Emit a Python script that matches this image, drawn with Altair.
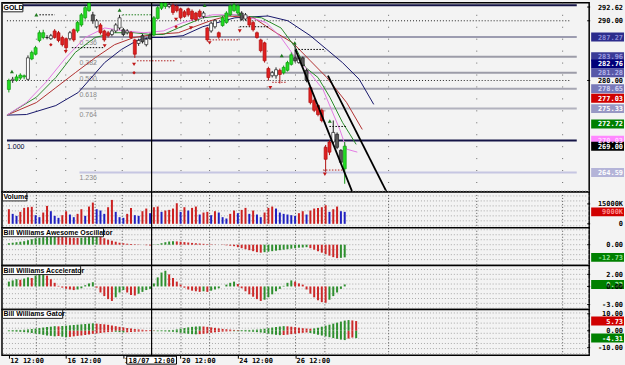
import altair as alt
import pandas as pd

W = 590
H_MAIN, H_VOL, H_AO, H_AC, H_GAT = 190, 36, 38, 44, 46
X_DOMAIN = [-0.5, 150.75]
BG = "#f3f3f3"
MONO = "DejaVu Sans Mono"
SANS = "Liberation Sans"

# ---------------- price candles (bar index 0..88) ----------------
OPEN = [278.5, 280.0, 280.0, 280.4, 280.6, 280.2, 283.6, 284.4, 286.7, 287.2,
        287.2, 287.0, 288.3, 288.0, 287.2, 287.0, 287.0, 288.5, 288.3, 289.3,
        290.5, 291.7, 291.0, 290.0, 289.3, 288.3, 288.0, 287.7, 288.3, 288.8,
        288.5, 288.0, 288.0, 286.8, 286.2, 286.5, 286.0, 287.0, 287.6, 290.4,
        292.1, 292.4, 292.4, 292.6, 292.4, 292.0, 291.5, 292.0, 291.6, 291.3,
        291.6, 290.7, 288.8, 288.3, 289.0, 288.0, 289.2, 289.7, 291.0, 291.7,
        291.3, 291.3, 290.3, 290.5, 289.7, 288.0, 286.8, 286.3, 282.0, 280.8,
        280.8, 281.7, 281.3, 281.7, 282.7, 283.3, 283.0, 283.8, 281.7, 278.8,
        276.7, 275.8, 275.0, 268.8, 269.7, 269.7, 271.0, 268.3, 265.2]
CLOSE = [280.0, 280.2, 280.6, 280.9, 280.8, 283.8, 284.7, 285.5, 288.0, 288.0,
         287.2, 287.5, 287.2, 286.7, 286.0, 285.5, 288.0, 286.8, 289.7, 291.0,
         292.2, 293.0, 290.0, 289.0, 288.0, 286.8, 287.5, 288.3, 289.3, 290.5,
         287.7, 288.3, 287.2, 284.4, 286.7, 287.5, 286.9, 287.6, 290.5, 292.2,
         293.0, 293.0, 292.7, 291.4, 291.7, 290.5, 290.7, 291.0, 290.3, 290.2,
         290.7, 291.3, 286.8, 289.6, 290.0, 287.3, 290.5, 291.3, 292.5, 292.7,
         292.5, 290.2, 291.0, 289.3, 288.5, 287.2, 285.0, 283.3, 280.5, 281.3,
         281.8, 281.0, 282.2, 283.0, 284.3, 283.8, 283.8, 282.5, 280.0, 276.3,
         275.0, 274.3, 273.3, 266.8, 268.0, 271.3, 268.8, 266.3, 269.0]
HIGH = [280.3, 280.6, 281.0, 281.2, 281.0, 284.2, 285.0, 285.8, 288.4, 288.5,
        287.6, 287.8, 288.6, 288.3, 287.5, 287.2, 288.3, 288.7, 290.0, 291.3,
        292.5, 293.2, 291.5, 290.3, 289.6, 288.5, 288.3, 288.6, 289.6, 291.0,
        288.8, 288.6, 288.3, 287.0, 287.0, 287.8, 287.2, 288.0, 290.8, 292.5,
        293.3, 293.3, 293.0, 292.9, 292.7, 292.2, 291.8, 292.2, 291.9, 291.5,
        291.9, 291.6, 289.0, 289.9, 290.3, 288.2, 290.8, 291.6, 292.8, 293.0,
        292.8, 291.6, 291.3, 290.8, 290.0, 288.2, 287.0, 286.5, 282.3, 281.6,
        282.2, 282.0, 282.5, 283.3, 284.7, 286.3, 284.1, 284.0, 282.0, 279.0,
        277.0, 276.0, 275.3, 269.2, 270.0, 273.3, 271.3, 268.5, 269.7]
LOW = [278.0, 279.6, 279.8, 280.1, 280.2, 280.0, 283.4, 284.2, 286.4, 286.9,
       286.9, 286.8, 287.0, 286.4, 285.7, 284.8, 286.7, 286.5, 288.0, 289.0,
       290.2, 291.5, 289.5, 288.7, 287.7, 286.5, 287.2, 287.4, 288.0, 288.5,
       287.4, 287.7, 287.0, 283.8, 285.8, 286.2, 285.7, 286.8, 287.4, 290.2,
       291.8, 292.0, 292.1, 291.0, 291.4, 290.2, 290.5, 290.7, 290.0, 289.9,
       290.5, 290.4, 286.5, 288.0, 288.7, 287.0, 289.0, 289.5, 290.8, 291.5,
       291.0, 290.0, 290.0, 289.0, 288.2, 287.0, 284.7, 283.0, 280.0, 280.5,
       280.3, 279.5, 281.0, 281.5, 282.5, 283.0, 282.8, 282.2, 279.7, 276.0,
       274.7, 274.0, 273.0, 264.7, 267.5, 269.5, 268.5, 266.0, 262.7]
KIND = list("gwgggwggggwwrrrrwrggggkwrrrwwwkwrrwkwkggggwrrrrrrrrwrwwrgggggkwrrrrrrwwrgggkwkkrrrrrrwkkg")

# ---------------- moving-average lines (alligator etc.) ----------------
JAW_I = [-0.5, 4.6, 12.3, 18.2, 25.1, 29.5, 33.6, 37.2, 40.5, 45.6, 50.8, 59.2, 67.9, 73.1, 79.0, 83.3, 87.4, 91.8, 95.6]
JAW_P = [274.2, 274.3, 275.8, 278.0, 283.0, 285.2, 286.7, 287.2, 287.2, 287.5, 289.0, 290.5, 290.8, 290.0, 287.5, 285.2, 283.0, 280.2, 276.0]
TEETH_I = [-0.5, 7.2, 12.3, 17.4, 22.6, 27.7, 32.8, 37.9, 44.4, 52.8, 57.2, 64.1, 70.0, 74.4, 79.0, 83.3, 88.5, 92.6]
TEETH_P = [274.2, 276.3, 278.8, 281.3, 283.8, 286.0, 287.2, 287.7, 288.0, 290.0, 290.8, 290.5, 288.0, 286.3, 283.3, 280.5, 276.3, 271.8]
LIPS_I = [-0.5, 7.2, 12.3, 17.4, 22.6, 27.7, 32.8, 37.2, 40.5, 44.4, 50.8, 58.5, 66.2, 71.3, 75.1, 77.7, 81.0, 84.1, 87.4, 91.0]
LIPS_P = [274.2, 277.2, 280.5, 284.7, 287.2, 288.0, 288.0, 287.7, 287.7, 288.8, 290.5, 291.0, 290.5, 288.8, 285.5, 282.2, 280.5, 277.2, 273.0, 269.3]
PINK_I = [-0.5, 4.6, 9.7, 14.9, 20.0, 25.1, 30.3, 35.4, 40.5, 45.6, 53.3, 61.0, 67.4, 71.3, 75.1, 77.7, 82.3, 86.7, 88.5, 91.3]
PINK_P = [274.2, 276.3, 279.7, 283.8, 287.2, 288.8, 288.3, 288.0, 288.3, 289.7, 291.0, 291.0, 289.7, 287.2, 283.8, 282.2, 278.5, 271.8, 268.5, 268.0]

# ---------------- fibonacci ----------------
FIB_NAMES = ["", "0.236", "0.382", "0.500", "0.618", "0.764", "1.000", "1.236"]
FIB_PRICES = [292.62, 287.27, 283.96, 281.28, 278.60, 275.29, 269.94, 264.59]
FIB_START = [-0.5, 18.5, 18.5, 18.5, 18.5, 18.5, -0.5, 18.5]
FIB_END = [148.8] * 8
FIB_COLORS = ["#141446", "#9c9cb0", "#9c9ca8", "#9c9ca8", "#a6a6b2", "#b2b2be", "#141446", "#c6c6e2"]

# ---------------- fractals & trend lines ----------------
UP_I = [0.8, 7.2, 29.0, 51.3, 60.5, 71.5, 74.9, 84.1]
UP_P = [281.5, 291.0, 291.8, 292.6, 291.2, 284.2, 286.3, 273.2]
DOWN_I = [14.9, 25.1, 32.8, 43.8, 47.7, 52.6, 60.5, 68.5, 82.8]
DOWN_P = [284.8, 285.8, 282.7, 290.2, 288.8, 286.3, 288.3, 278.8, 264.3]
DIAM_I = [11.0, 32.8, 43.8]
DIAM_P = [286.0, 281.3, 289.0]
SEG_X1 = [16.5, 29.8, 33.6, 52.6, 60.5, 75.1, 69.0, 84.0, 82.3, 8.0]
SEG_X2 = [25.0, 37.2, 43.6, 60.5, 68.0, 82.8, 72.6, 88.7, 87.4, 12.0]
SEG_P = [285.5, 291.0, 283.3, 286.8, 289.0, 285.2, 279.7, 272.3, 265.0, 291.0]
SEG_C = ["#000", "#208020", "#b02020", "#b02020", "#000", "#000", "#b02020", "#000", "#b02020", "#000"]
TREND_ID = ["a", "a", "b", "b"]
TREND_I = [75.1, 90.0, 83.6, 99.0]
TREND_P = [285.17, 261.3, 280.83, 261.3]

GRID_X = [7.2, 14.9, 22.6, 29.7, 45.1, 52.6, 60.3, 67.7, 75.1, 82.8, 99.5, 122.6, 145.1]
CROSS = 37.4
DOTTED_PRICES = [290.0, 280.0]

# ---------------- indicators ----------------
VOLUME = [11000, 7500, 6000, 9000, 12000, 12500, 12800, 6500, 5000, 8500,
          13500, 9500, 6000, 4500, 6500, 9500, 7000, 5000, 7500, 11000,
          6000, 13000, 16000, 11000, 10000, 7500, 12500, 18000, 9000, 5000,
          4500, 7500, 12000, 6500, 6000, 9500, 11500, 8000, 12500, 13000,
          9000, 10000, 10500, 11500, 15500, 9000, 12500, 10000, 12000, 13000,
          7000, 8500, 9000, 6500, 9500, 8500, 5000, 4000, 7500, 10000,
          8000, 10500, 12000, 7500, 10000, 7000, 5000, 8500, 12000, 13000,
          11500, 8500, 7500, 7000, 6500, 6000, 8000, 9500, 7000, 10000,
          11500, 12000, 12500, 14000, 9000, 11000, 13000, 9500, 9000]
AO = [1.5, 2.0, 2.5, 3.0, 3.5, 4.5, 5.5, 6.5, 7.0, 7.5, 7.8, 8.0, 8.2,
      8.0, 7.8, 7.5, 7.2, 7.0, 6.8, 7.0, 7.5, 8.0, 8.5, 8.6,
      8.0, 6.5, 5.0, 4.0, 3.0, 2.0, 1.5, 1.0, 0.8, 0.5, 0.3, 0.0, -0.5, -0.8,
      -0.3, 0.5, 1.5, 2.5, 3.2, 3.5, 3.3,
      3.0, 2.6, 2.2, 1.8, 1.5, 1.2, 0.9, 0.6, 0.4, 0.2, 0.0, -0.3, -0.6, -1.0, -1.5,
      -2.5, -3.5, -4.5, -5.5, -6.5, -7.5, -8.0,
      -7.5, -7.0, -6.5, -6.0, -5.5, -5.0, -4.5, -4.0, -3.5, -3.0, -2.8, -2.5,
      -3.5, -5.0, -6.5, -8.0, -9.5, -11.0, -12.5, -13.5, -13.2, -12.73]
AC = [0.8, 1.0, 1.2, 1.1, 1.3, 1.5, 1.4, 1.8, 2.2, 2.4, 1.8, 1.2, 0.6, 0.1,
      -0.2, -0.4, -0.5, -0.6, -0.5, -0.3, 0.2, 0.5, 0.7, -0.2, -1.0, -1.6,
      -2.1, -2.4, -1.8, -1.0, -0.6, -1.0, -1.4, -1.5, -1.2, -0.9, -0.6, -0.4,
      0.5, 1.5, 2.3, 2.6, 2.0, 1.4, 0.8, 0.3, -0.2, -0.5, -0.7, -0.8, -0.9,
      -0.8, -0.9, -0.7, -0.5, -0.3, 0.0, 0.3, 0.6, 0.8, 0.4, -0.3, -0.8, -1.3,
      -1.7, -2.1, -2.4, -2.2, -1.8, -1.3, -0.8, -0.4, 0.1, 0.6, 1.0, 0.8, 0.5,
      0.3, -0.5, -1.2, -1.8, -2.3, -2.6, -2.7, -2.2, -1.6, -1.0, -0.4, 0.33]
GATOR_UP = [0.3, 0.4, 0.5, 0.5, 0.6, 0.8, 1.0, 1.3, 1.6, 1.9, 2.2,
            2.4, 2.7, 2.6, 2.8, 3.0, 3.2, 3.4,
            3.6, 3.8, 4.0, 4.2, 4.4, 4.2, 4.0, 3.8, 3.5, 3.1,
            2.7, 2.3, 2.0, 1.6, 1.3, 1.0, 0.8, 0.6, 0.4, 0.3,
            0.2, 0.2, 0.3, 0.3, 0.4, 0.5,
            0.8, 1.2, 1.6, 2.0, 2.3, 2.5, 2.6, 2.5,
            2.3, 2.0, 1.7, 1.4, 1.1, 0.9, 0.7, 0.5,
            0.4, 0.4, 0.5, 0.5, 0.6, 0.7, 0.9,
            1.2, 1.5, 1.9, 2.2, 2.5, 2.7, 2.6, 2.4, 2.1,
            1.8, 1.5, 1.3, 1.2, 1.4,
            1.8, 2.4, 3.0, 3.6, 4.2, 4.8, 5.4, 6.0, 6.3, 6.1, 5.73]
GATOR_DN = [-0.3, -0.4, -0.5, -0.6, -0.8, -1.0, -1.3, -1.7, -2.0, -2.4, -2.8,
            -3.0, -3.3, -3.1, -3.5, -3.8, -3.6, -3.3,
            -3.0, -2.8, -2.5, -2.2, -1.8, -1.6, -1.3, -1.0, -0.8, -0.6,
            -0.6, -0.8, -1.0, -0.9, -0.8, -0.6, -0.5, -0.4, -0.3, -0.2,
            -0.2, -0.3, -0.3, -0.4, -0.5, -0.6,
            -0.9, -1.2, -1.5, -1.8, -2.0, -2.1, -2.0, -1.8,
            -1.5, -1.2, -0.9, -0.7, -0.5, -0.4, -0.3, -0.3,
            -0.3, -0.3, -0.4, -0.5, -0.6, -0.8, -1.0,
            -1.3, -1.7, -2.1, -2.4, -2.6, -2.5, -2.3, -2.0, -1.7,
            -1.4, -1.2, -1.0, -1.3, -1.8,
            -2.3, -2.8, -3.3, -3.8, -4.3, -4.8, -5.2, -5.5, -4.6, -4.0, -4.31]

TICK_IDX = [0, 15, 30, 45, 60, 75]
TICK_TEXT = ["12 12:00", "16 12:00", "18 12:00", "20 12:00", "24 12:00", "26 12:00"]
CROSS_LABEL = "18/07 12:00"

# ---------------- right-hand labels ----------------
MAIN_PLAIN = [(292.3, "292.62"), (290.0, "290.00"), (280.0, "280.00")]
MAIN_BOX = [(287.27, "287.27", "#2c2c8c", "#8c8cd8"),
            (283.96, "283.96", "#3a3a96", "#9a9ae0"),
            (282.76, "282.76", "#00007a", "#ffffff"),
            (281.28, "281.28", "#5858a8", "#b4b4ea"),
            (278.60, "278.65", "#7878b8", "#d4d4f4"),
            (277.03, "277.03", "#d00000", "#ffffff"),
            (275.29, "275.33", "#9898c4", "#ffffff"),
            (272.72, "272.72", "#008000", "#ffffff"),
            (270.00, "270.03", "#ff88ff", "#ffd8ff"),
            (269.00, "269.00", "#000000", "#ffffff"),
            (264.59, "264.59", "#b4b4d8", "#ffffff")]
VOL_PLAIN = [(15000, "15000K"), (0, "0")]
VOL_BOX = [(9000, "9000K", "#d00000", "#ff9090")]
AO_PLAIN = [(0, "0.00")]
AO_BOX = [(-12.73, "-12.73", "#008000", "#90e090")]
AC_PLAIN = [(2.0, "2.00"), (0.0, "0.00"), (-3.0, "-3.00")]
AC_BOX = [(0.33, "0.33", "#008000", "#b0f0b0")]
GAT_PLAIN = [(10.0, "10.00"), (0.0, "0.00"), (-10.0, "-10.00")]
GAT_BOX = [(5.73, "5.73", "#d00000", "#ffffff"), (-4.31, "-4.31", "#008000", "#ffffff")]

# =====================================================================
xsc = alt.Scale(domain=X_DOMAIN, nice=False, zero=False)
label_expr = " : ".join(
    f"datum.value == {v} ? '{t}'" for v, t in zip(TICK_IDX, TICK_TEXT)) + " : ''"
TIME_AXIS = alt.Axis(values=TICK_IDX, labelExpr=label_expr, labelAlign="left",
                     labelFont=MONO, labelFontSize=7, labelFontWeight="bold",
                     labelColor="#000", tickSize=3, tickColor="#000", tickWidth=1,
                     labelPadding=-2, labelOffset=1, domain=False,
                     grid=False, labelOverlap=False, labelBound=False, labelFlush=False,
                     title=None)


def X(field="i", axis=None):
    return alt.X(f"{field}:Q", scale=xsc, axis=axis)


def grid_layers(ysc, row_vals, axis, main=False):
    gdf = pd.DataFrame({"i": GRID_X})
    if main:
        vg = alt.Chart(gdf).mark_rule(color="#6a6a6a", strokeWidth=1, strokeDash=[1, 11]).encode(x=X(axis=axis))
        return [vg]
    vg = alt.Chart(gdf).mark_rule(color="#555", strokeWidth=1, strokeDash=[1, 2]).encode(x=X(axis=axis))
    rdf = pd.DataFrame({"v": row_vals})
    hg = alt.Chart(rdf).mark_rule(color="#a8a8a8", strokeWidth=1, strokeDash=[1, 2]).encode(
        y=alt.Y("v:Q", scale=ysc, axis=None))
    return [hg, vg]


def cross_layer(axis=None):
    return alt.Chart(pd.DataFrame({"i": [CROSS]})).mark_rule(color="#000", strokeWidth=1.2).encode(x=X(axis=axis))


def right_labels(plain, boxes, ysc, plain_last=False):
    bl = []
    if boxes:
        bdf = pd.DataFrame(boxes, columns=["v", "t", "fill", "tc"])
        rect = alt.Chart(bdf).mark_rect(yOffset=-4.5, y2Offset=4.5).encode(
            x=alt.value(W + 2), x2=alt.value(W + 35),
            y=alt.Y("v:Q", scale=ysc, axis=None), y2="v:Q",
            fill=alt.Fill("fill:N", scale=None))
        txt = alt.Chart(bdf).mark_text(align="right", baseline="middle", font=MONO,
                                       fontSize=7, fontWeight="bold", dy=0.5).encode(
            x=alt.value(W + 34), y=alt.Y("v:Q", scale=ysc, axis=None), text="t:N",
            color=alt.Color("tc:N", scale=None))
        bl = [rect, txt]
    pdf = pd.DataFrame(plain, columns=["v", "t"])
    ptxt = alt.Chart(pdf).mark_text(align="right", baseline="middle", font=MONO,
                                    fontSize=7, fontWeight="bold", color="#000", dy=0.5).encode(
        x=alt.value(W + 34), y=alt.Y("v:Q", scale=ysc, axis=None), text="t:N")
    ticks = alt.Chart(pdf).mark_rule(color="#000").encode(
        x=alt.value(W - 2), x2=alt.value(W + 1), y=alt.Y("v:Q", scale=ysc, axis=None))
    out = [ticks]
    if plain_last:
        out += bl + [ptxt]
    else:
        out += [ptxt] + bl
    return out


def title_box(text, wpx):
    d = pd.DataFrame({"t": [text]})
    r = alt.Chart(d).mark_rect(fill="#ffffff", stroke="#222", strokeWidth=1).encode(
        x=alt.value(0.5), x2=alt.value(wpx), y=alt.value(0.5), y2=alt.value(9))
    t = alt.Chart(d).mark_text(align="left", baseline="top", font=SANS, fontSize=7,
                               fontWeight="bold", color="#000").encode(
        x=alt.value(1.5), y=alt.value(1), text="t:N")
    return [r, t]


# ---------------- main panel ----------------
ysc_main = alt.Scale(domain=[261.33, 293.0], nice=False, zero=False)
Ym = lambda f: alt.Y(f"{f}:Q", scale=ysc_main, axis=None)

FILL = {"g": "#22dd22", "r": "#e02020", "w": "#ffffff", "k": "#5a5a5a"}
LINE = {"g": "#119911", "r": "#b01010", "w": "#202020", "k": "#202020"}
cdf = pd.DataFrame({"i": list(range(len(OPEN))), "o": OPEN, "c": CLOSE, "h": HIGH, "l": LOW, "k": KIND})
cdf["fill"] = cdf["k"].map(FILL)
cdf["line"] = cdf["k"].map(LINE)

fib_df = pd.DataFrame({"p": FIB_PRICES, "x1": FIB_START, "x2": FIB_END, "col": FIB_COLORS, "name": FIB_NAMES})
fib_df["w"] = [1.5, 2, 2, 2, 2, 1.5, 1.5, 1.5]
fib_lines = alt.Chart(fib_df).mark_rule(strokeWidth=2).encode(
    x=X("x1"), x2="x2:Q", y=Ym("p"), color=alt.Color("col:N", scale=None),
    strokeWidth=alt.StrokeWidth("w:Q", scale=None))
fib_txt_df = fib_df[fib_df["name"] != ""].copy()
fib_txt_df["tc"] = ["#8a8a8a", "#8a8a8a", "#8a8a8a", "#8a8a8a", "#8a8a8a", "#000030", "#8a8a8a"]
fib_txt = alt.Chart(fib_txt_df).mark_text(align="left", baseline="top", font=SANS, fontSize=7, dy=2).encode(
    x=X("x1"), y=Ym("p"), text="name:N", color=alt.Color("tc:N", scale=None))

dotted_rows = alt.Chart(pd.DataFrame({"p": DOTTED_PRICES, "x1": [-0.5, -0.5], "x2": [147.0, 147.0]})).mark_rule(
    color="#222", strokeDash=[1, 2]).encode(x=X("x1"), x2="x2:Q", y=Ym("p"))

ma_rows = []
for name, xi, pp, col in [("jaw", JAW_I, JAW_P, "#16166a"), ("teeth", TEETH_I, TEETH_P, "#b03030"),
                          ("lips", LIPS_I, LIPS_P, "#2a8a2a"), ("pink", PINK_I, PINK_P, "#e27ae2")]:
    for a, b in zip(xi, pp):
        ma_rows.append({"line": name, "i": a, "p": b, "col": col})
ma_df = pd.DataFrame(ma_rows)
ma_lines = alt.Chart(ma_df).mark_line(strokeWidth=1, clip=True).encode(
    x=X(), y=Ym("p"), detail="line:N", color=alt.Color("col:N", scale=None))

seg_df = pd.DataFrame({"x1": SEG_X1, "x2": SEG_X2, "p": SEG_P, "col": SEG_C})
segs = alt.Chart(seg_df).mark_rule(strokeDash=[1.5, 1.5], strokeWidth=1).encode(
    x=X("x1"), x2="x2:Q", y=Ym("p"), color=alt.Color("col:N", scale=None))

wicks = alt.Chart(cdf).mark_rule(strokeWidth=1, clip=True).encode(
    x=X(), y=Ym("l"), y2="h:Q", color=alt.Color("line:N", scale=None))
bodies = alt.Chart(cdf).mark_bar(size=3, strokeWidth=0.7, clip=True).encode(
    x=X(), y=Ym("o"), y2="c:Q", fill=alt.Fill("fill:N", scale=None),
    stroke=alt.Stroke("line:N", scale=None))

up_pts = alt.Chart(pd.DataFrame({"i": UP_I, "p": UP_P})).mark_point(
    shape="triangle-up", filled=True, size=16, color="#1f7a1f", opacity=1).encode(x=X(), y=Ym("p"))
dn_pts = alt.Chart(pd.DataFrame({"i": DOWN_I, "p": DOWN_P})).mark_point(
    shape="triangle-down", filled=True, size=16, color="#c01818", opacity=1).encode(x=X(), y=Ym("p"))
dm_pts = alt.Chart(pd.DataFrame({"i": DIAM_I, "p": DIAM_P})).mark_point(
    shape="diamond", filled=True, size=12, color="#c01818", opacity=1).encode(x=X(), y=Ym("p"))

trend = alt.Chart(pd.DataFrame({"id": TREND_ID, "i": TREND_I, "p": TREND_P})).mark_line(
    color="#000", strokeWidth=1.8, clip=True).encode(x=X(), y=Ym("p"), detail="id:N")

main = alt.layer(
    *grid_layers(ysc_main, [], None, main=True), dotted_rows, fib_lines, fib_txt, ma_lines, segs,
    wicks, bodies, up_pts, dn_pts, dm_pts, trend, cross_layer(),
    *right_labels(MAIN_PLAIN, MAIN_BOX, ysc_main),
    *title_box("GOLD", 21)
).properties(width=W, height=H_MAIN)


def cmp_colors(vals, up, down, use_abs=False):
    out = []
    for k, v in enumerate(vals):
        if k == 0:
            out.append(up)
            continue
        a, b = (abs(v), abs(vals[k - 1])) if use_abs else (v, vals[k - 1])
        out.append(up if a >= b else down)
    return out


def hist_panel(vals, colors, ysc, h, plain, boxes, title, tw, rows, axis=None, extra=None, plain_last=False):
    d = pd.DataFrame({"i": list(range(len(vals))), "v": vals, "col": colors})
    bars = alt.Chart(d).mark_bar(size=2).encode(
        x=X(axis=axis), y=alt.Y("v:Q", scale=ysc, axis=None), y2=alt.datum(0),
        color=alt.Color("col:N", scale=None))
    layers = grid_layers(ysc, rows, axis) + [bars]
    if extra is not None:
        layers += extra
    layers += [cross_layer(axis)] + right_labels(plain, boxes, ysc, plain_last) + title_box(title, tw)
    return alt.layer(*layers).properties(width=W, height=h)


GREEN, RED = "#2f8f2f", "#cc2a2a"

# volume
ysc_vol = alt.Scale(domain=[-3000, 24000], nice=False, zero=False)
vol = hist_panel(VOLUME, cmp_colors(VOLUME, "#cc2020", "#2020c0"), ysc_vol, H_VOL,
                 VOL_PLAIN, VOL_BOX, "Volume", 25,
                 [-1500 + 3750 * k for k in range(8)])

# awesome oscillator
ysc_ao = alt.Scale(domain=[-21, 17], nice=False, zero=False)
ao = hist_panel(AO, cmp_colors(AO, GREEN, RED), ysc_ao, H_AO, AO_PLAIN, AO_BOX,
                "Bill Williams Awesome Oscillator", 102, [-20 + 5 * k for k in range(8)])

# accelerator
ysc_ac = alt.Scale(domain=[-3.8, 3.45], nice=False, zero=False)
ac = hist_panel(AC, cmp_colors(AC, GREEN, RED), ysc_ac, H_AC, AC_PLAIN, AC_BOX,
                "Bill Williams Accelerator", 79, [-3.6 + 0.8 * k for k in range(9)], plain_last=True)

# gator
ysc_gat = alt.Scale(domain=[-14.4, 12.6], nice=False, zero=False)
gdn = pd.DataFrame({"i": list(range(len(GATOR_DN))), "v": GATOR_DN,
                    "col": cmp_colors(GATOR_DN, GREEN, RED, use_abs=True)})
gdn_bars = alt.Chart(gdn).mark_bar(size=2).encode(
    x=X(axis=TIME_AXIS), y=alt.Y("v:Q", scale=ysc_gat, axis=None), y2=alt.datum(0),
    color=alt.Color("col:N", scale=None))
cl = pd.DataFrame({"i": [CROSS], "t": [CROSS_LABEL]})
cross_box = alt.Chart(cl).mark_rect(fill="#ffffff", stroke="#000", strokeWidth=1,
                                    xOffset=-25, x2Offset=25).encode(
    x=X(axis=TIME_AXIS), x2="i:Q", y=alt.value(H_GAT + 1), y2=alt.value(H_GAT + 9))
cross_txt = alt.Chart(cl).mark_text(align="center", baseline="top", font=MONO, fontSize=7,
                                    fontWeight="bold", color="#000").encode(
    x=X(axis=TIME_AXIS), y=alt.value(H_GAT + 1.5), text="t:N")
gat = hist_panel(GATOR_UP, cmp_colors(GATOR_UP, GREEN, RED, use_abs=True), ysc_gat, H_GAT,
                 GAT_PLAIN, GAT_BOX, "Bill Williams Gator", 61,
                 [-13.5 + 3 * k for k in range(9)], axis=TIME_AXIS,
                 extra=[gdn_bars, cross_box, cross_txt])

chart = alt.vconcat(main, vol, ao, ac, gat, spacing=0, bounds="flush").properties(
    background=BG, padding={"left": 0, "top": 0, "right": 0, "bottom": 0}
).configure_view(stroke="#000", strokeWidth=1.5, fill=BG)

chart.save("out.html", embed_options={"renderer": "svg", "actions": False})
